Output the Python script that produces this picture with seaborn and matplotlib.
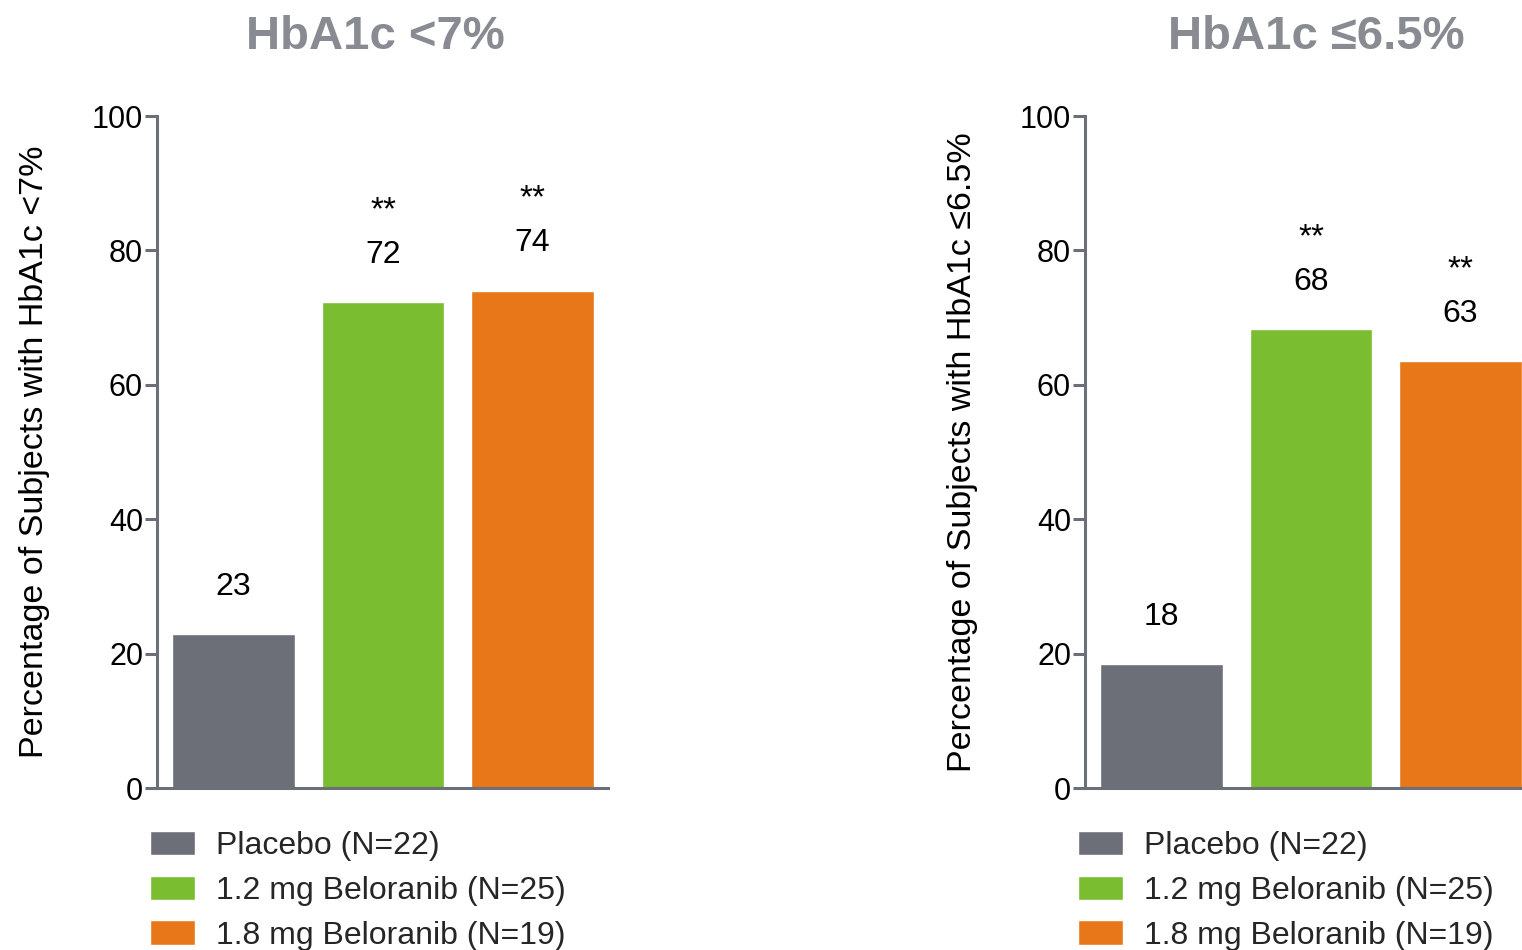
import numpy as np
import pandas as pd
import matplotlib
matplotlib.use("Agg")
import matplotlib.pyplot as plt
import seaborn as sns

# data
groups = ['Placebo (N=22)', '1.2 mg Beloranib (N=25)', '1.8 mg Beloranib (N=19)']
pct_lt7 = [22.9, 72.3, 74.0]
pct_le65 = [18.4, 68.3, 63.5]
labels_lt7 = ['23', '72', '74']
labels_le65 = ['18', '68', '63']
stars_lt7 = ['', '**', '**']
stars_le65 = ['', '**', '**']
titles = ['HbA1c <7%', 'HbA1c \u22646.5%']
ylabels = ['Percentage of Subjects with HbA1c <7%', 'Percentage of Subjects with HbA1c \u22646.5%']

colors = ['#6d6f78', '#7bbd31', '#e8771a']
axis_grey = '#6d6f78'
title_grey = '#898b92'

sns.set_style("white")
plt.rcParams['font.family'] = ['Liberation Sans', 'DejaVu Sans']

fig = plt.figure(figsize=(15.22, 9.5), dpi=100)
ax1 = fig.add_axes([157/1522, 162/950, 451/1522, 672/950])
ax2 = fig.add_axes([1085/1522, 162/950, 437/1522, 672/950])

panels = [
    (ax1, pct_lt7, labels_lt7, stars_lt7, titles[0], ylabels[0], (-0.512, 2.505), 375),
    (ax2, pct_le65, labels_le65, stars_le65, titles[1], ylabels[1], (-0.512, 2.411), 1316),
]

for ax, vals, labs, stars, title, ylab, xlim, tx in panels:
    df = pd.DataFrame({'group': groups, 'pct': vals})
    sns.barplot(data=df, x='group', y='pct', hue='group', palette=colors,
                width=0.82, ax=ax, legend=True, saturation=1)
    ax.set_xlim(*xlim)
    ax.set_ylim(0, 100)
    ax.set_yticks([0, 20, 40, 60, 80, 100])
    ax.set_xticks([])
    ax.set_xlabel('')
    ax.set_ylabel(ylab, fontsize=24.5, labelpad=30, color='black')
    for side in ['top', 'right']:
        ax.spines[side].set_visible(False)
    for side in ['left', 'bottom']:
        ax.spines[side].set_color(axis_grey)
        ax.spines[side].set_linewidth(2.2)
    ax.tick_params(axis='y', length=9, width=2.2, color=axis_grey, labelsize=22,
                   labelcolor='black', pad=1, left=True)
    ax.patch.set_alpha(0)

    # value labels and significance stars above the bars
    for i, (v, lab, st) in enumerate(zip(vals, labs, stars)):
        ax.annotate(lab, xy=(i, v), xytext=(0, 34), textcoords='offset points',
                    ha='center', va='center', fontsize=23, color='black')
        if st:
            ax.annotate(st, xy=(i, v), xytext=(0, 66), textcoords='offset points',
                        ha='center', va='center', fontsize=24, color='black')

    # legend below each panel
    handles, leg_labels = ax.get_legend_handles_labels()
    ax.get_legend().remove()
    left_px = ax.get_position().x0 * 1522 - 7
    fig.legend(handles, leg_labels, loc='upper left',
               bbox_to_anchor=(left_px / 1522, 1 - 831 / 950),
               frameon=False, fontsize=23, handlelength=1.4, handleheight=0.8,
               handletextpad=0.68, labelspacing=0.45, borderpad=0, borderaxespad=0)

    fig.text(tx / 1522, 1 - 37 / 950, title, ha='center', va='center',
             fontsize=34, fontweight='bold', color=title_grey)

fig.savefig('out.png', dpi=100)
